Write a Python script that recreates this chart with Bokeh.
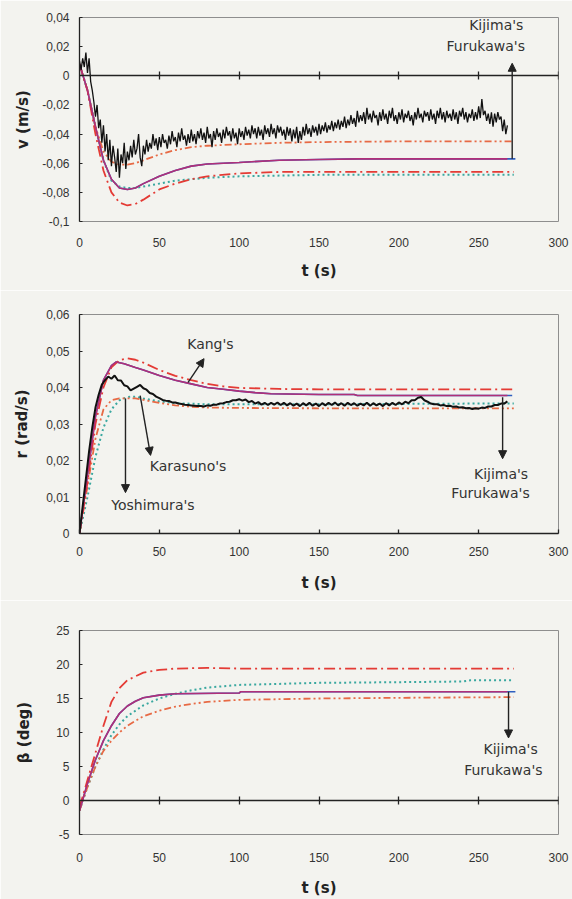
from bokeh.plotting import figure
from bokeh.layouts import column
from bokeh.models import (Range1d, LinearAxis, FixedTicker, CustomJSTickFormatter,
                          Arrow, NormalHead, Label, CustomLabelingPolicy)
from bokeh.embed import file_html
from bokeh.resources import INLINE

# ---------------- data ----------------
T_TICKS = [0, 50, 100, 150, 200, 250, 300]
V_TICKS = [-0.1, -0.08, -0.06, -0.04, -0.02, 0, 0.02, 0.04]
R_TICKS = [0, 0.01, 0.02, 0.03, 0.04, 0.05, 0.06]
B_TICKS = [-5, 0, 5, 10, 15, 20, 25]

T_MEAS_V = list(range(0, 269))
V_MEAS = [0.010, 0.004, 0.012, 0.006, 0.016, 0.002, 0.012, -0.004, -0.010, -0.018,
          -0.028, -0.020, -0.036, -0.030, -0.046, -0.034, -0.052, -0.040, -0.058, -0.044,
          -0.062, -0.048, -0.056, -0.066, -0.050, -0.070, -0.054, -0.060, -0.046, -0.064,
          -0.052, -0.058, -0.048, -0.056, -0.044, -0.054, -0.050, -0.040, -0.056, -0.062,
          -0.048, -0.054, -0.044, -0.052, -0.046, -0.050, -0.040, -0.048, -0.043, -0.051,
          -0.042, -0.049, -0.040, -0.046, -0.044, -0.050, -0.041, -0.047, -0.038, -0.045,
          -0.042, -0.049, -0.039, -0.045, -0.036, -0.044, -0.041, -0.048, -0.040, -0.046,
          -0.037, -0.045, -0.040, -0.047, -0.038, -0.043, -0.036, -0.044, -0.039, -0.046,
          -0.035, -0.043, -0.040, -0.049, -0.038, -0.044, -0.036, -0.042, -0.039, -0.046,
          -0.037, -0.043, -0.035, -0.041, -0.038, -0.045, -0.036, -0.043, -0.039, -0.047,
          -0.036, -0.042, -0.038, -0.044, -0.035, -0.041, -0.037, -0.043, -0.034, -0.040,
          -0.036, -0.043, -0.035, -0.041, -0.037, -0.044, -0.034, -0.040, -0.036, -0.042,
          -0.033, -0.040, -0.036, -0.043, -0.034, -0.039, -0.035, -0.041, -0.037, -0.044,
          -0.035, -0.041, -0.036, -0.045, -0.037, -0.043, -0.035, -0.046, -0.038, -0.044,
          -0.035, -0.041, -0.033, -0.040, -0.036, -0.042, -0.034, -0.039, -0.035, -0.041,
          -0.033, -0.040, -0.034, -0.038, -0.032, -0.039, -0.034, -0.037, -0.031, -0.038,
          -0.032, -0.036, -0.030, -0.037, -0.031, -0.035, -0.028, -0.036, -0.030, -0.034,
          -0.027, -0.033, -0.029, -0.035, -0.024, -0.032, -0.027, -0.031, -0.025, -0.033,
          -0.022, -0.030, -0.026, -0.032, -0.024, -0.029, -0.027, -0.034, -0.025, -0.031,
          -0.023, -0.030, -0.026, -0.033, -0.024, -0.029, -0.022, -0.031, -0.027, -0.033,
          -0.025, -0.030, -0.023, -0.032, -0.026, -0.029, -0.024, -0.031, -0.027, -0.034,
          -0.025, -0.030, -0.022, -0.029, -0.026, -0.032, -0.024, -0.028, -0.025, -0.031,
          -0.023, -0.030, -0.026, -0.033, -0.024, -0.029, -0.022, -0.030, -0.025, -0.032,
          -0.024, -0.029, -0.026, -0.031, -0.023, -0.030, -0.025, -0.033, -0.024, -0.028,
          -0.022, -0.030, -0.025, -0.032, -0.026, -0.029, -0.023, -0.031, -0.025, -0.030,
          -0.021, -0.029, -0.016, -0.027, -0.024, -0.031, -0.026, -0.033, -0.025, -0.035,
          -0.026, -0.032, -0.025, -0.030, -0.028, -0.038, -0.030, -0.040, -0.034]

T_MEAS_R = list(range(0, 270, 2))
R_MEAS = [0.0000, 0.0075, 0.0150, 0.0225, 0.0290, 0.0345, 0.0380, 0.0408, 0.0420, 0.0430,
          0.0424, 0.0433, 0.0420, 0.0419, 0.0406, 0.0403, 0.0392, 0.0397, 0.0402, 0.0407,
          0.0398, 0.0394, 0.0385, 0.0382, 0.0375, 0.0371, 0.0366, 0.0364, 0.0363, 0.0359,
          0.0359, 0.0356, 0.0355, 0.0353, 0.0352, 0.0351, 0.0350, 0.0349, 0.0349, 0.0348,
          0.0351, 0.0350, 0.0353, 0.0353, 0.0356, 0.0357, 0.0360, 0.0361, 0.0365, 0.0365,
          0.0368, 0.0364, 0.0367, 0.0360, 0.0363, 0.0356, 0.0360, 0.0353, 0.0358, 0.0352,
          0.0358, 0.0353, 0.0359, 0.0352, 0.0358, 0.0351, 0.0357, 0.0350, 0.0356, 0.0349,
          0.0357, 0.0351, 0.0358, 0.0350, 0.0356, 0.0349, 0.0357, 0.0351, 0.0358, 0.0352,
          0.0359, 0.0351, 0.0357, 0.0350, 0.0358, 0.0352, 0.0357, 0.0350, 0.0356, 0.0351,
          0.0358, 0.0350, 0.0357, 0.0351, 0.0356, 0.0349, 0.0357, 0.0351, 0.0358, 0.0352,
          0.0359, 0.0354, 0.0361, 0.0357, 0.0365, 0.0365, 0.0372, 0.0374, 0.0365, 0.0361,
          0.0356, 0.0354, 0.0354, 0.0351, 0.0352, 0.0349, 0.0350, 0.0347, 0.0348, 0.0345,
          0.0346, 0.0343, 0.0344, 0.0341, 0.0343, 0.0342, 0.0345, 0.0344, 0.0348, 0.0348,
          0.0352, 0.0352, 0.0356, 0.0356, 0.0362]

# v (m/s) simulations
T_V_KIJ = [0, 5, 10, 15, 20, 25, 30, 35, 40, 50, 60, 70, 80, 100, 125, 150, 175, 200, 225, 250, 268]
V_KIJ = [0.008, -0.010, -0.035, -0.058, -0.071, -0.077, -0.078, -0.077, -0.074, -0.069, -0.065,
         -0.062, -0.0605, -0.0595, -0.058, -0.0575, -0.057, -0.057, -0.057, -0.057, -0.057]
T_V_FUR = [0, 5, 10, 15, 20, 25, 30, 35, 40, 50, 60, 70, 80, 100, 125, 150, 175, 200, 225, 250, 273]
V_FUR = [0.008, -0.010, -0.035, -0.058, -0.071, -0.077, -0.078, -0.077, -0.074, -0.069, -0.065,
         -0.062, -0.0605, -0.0595, -0.058, -0.0575, -0.057, -0.057, -0.057, -0.057, -0.057]
T_V_KANG = [0, 5, 10, 15, 20, 25, 30, 35, 40, 50, 60, 70, 80, 100, 125, 150, 200, 272]
V_KANG = [0.008, -0.010, -0.040, -0.065, -0.080, -0.087, -0.089, -0.088, -0.085, -0.078, -0.074,
          -0.071, -0.069, -0.067, -0.066, -0.066, -0.066, -0.066]
T_V_KAR = [0, 5, 10, 15, 20, 25, 30, 35, 40, 50, 60, 80, 100, 150, 200, 272]
V_KAR = [0.008, -0.010, -0.035, -0.058, -0.072, -0.076, -0.077, -0.077, -0.076, -0.074, -0.072,
         -0.070, -0.069, -0.068, -0.068, -0.068]
T_V_YOS = [0, 5, 10, 15, 20, 25, 30, 35, 40, 50, 60, 70, 80, 100, 125, 150, 200, 272]
V_YOS = [0.008, -0.010, -0.035, -0.052, -0.059, -0.061, -0.061, -0.060, -0.058, -0.054, -0.051,
         -0.049, -0.048, -0.047, -0.046, -0.0455, -0.045, -0.045]

# r (rad/s) simulations
T_R_KIJ = [0, 5, 10, 15, 20, 23, 28, 35, 40, 50, 60, 70, 80, 90, 100, 110, 120, 150, 172, 174, 268]
R_KIJ = [0.0, 0.016, 0.032, 0.042, 0.046, 0.047, 0.0465, 0.0455, 0.0448, 0.0433, 0.042, 0.041,
         0.040, 0.0395, 0.039, 0.0386, 0.0383, 0.0381, 0.0381, 0.0378, 0.0378]
T_R_FUR = [0, 5, 10, 15, 20, 23, 28, 35, 40, 50, 60, 70, 80, 90, 100, 110, 120, 150, 172, 174, 271]
R_FUR = [0.0, 0.016, 0.032, 0.042, 0.046, 0.047, 0.0465, 0.0455, 0.0448, 0.0433, 0.042, 0.041,
         0.040, 0.0395, 0.039, 0.0386, 0.0383, 0.0381, 0.0381, 0.0378, 0.0378]
T_R_KANG = [0, 5, 10, 15, 20, 25, 30, 35, 40, 50, 60, 70, 80, 90, 100, 125, 150, 200, 272]
R_KANG = [0.0, 0.014, 0.030, 0.040, 0.0455, 0.0475, 0.048, 0.0476, 0.0468, 0.0448, 0.0432,
          0.042, 0.041, 0.0403, 0.0399, 0.0396, 0.0395, 0.0395, 0.0395]
T_R_KAR = [0, 5, 10, 15, 20, 25, 30, 35, 40, 50, 60, 80, 100, 150, 200, 250, 272]
R_KAR = [0.0, 0.010, 0.021, 0.029, 0.034, 0.0365, 0.0374, 0.0375, 0.037, 0.0362, 0.0357,
         0.0354, 0.0354, 0.0354, 0.0355, 0.0356, 0.0356]
T_R_YOS = [0, 5, 10, 15, 20, 25, 35, 40, 50, 60, 70, 80, 100, 150, 200, 272]
R_YOS = [0.0, 0.013, 0.026, 0.034, 0.0365, 0.037, 0.037, 0.0366, 0.0358, 0.0351, 0.0347,
         0.0345, 0.0344, 0.0343, 0.0343, 0.0343]

# beta (deg) simulations
T_B_KIJ = [0, 5, 10, 15, 20, 25, 30, 35, 40, 50, 60, 100, 101, 268]
B_KIJ = [-1.5, 2.5, 6.0, 8.8, 11.0, 12.8, 13.9, 14.6, 15.1, 15.5, 15.7, 15.8, 16.0, 16.0]
T_B_FUR = [0, 5, 10, 15, 20, 25, 30, 35, 40, 50, 60, 100, 101, 273]
B_FUR = [-1.5, 2.5, 6.0, 8.8, 11.0, 12.8, 13.9, 14.6, 15.1, 15.5, 15.7, 15.8, 16.0, 16.0]
T_B_KANG = [0, 5, 10, 15, 20, 25, 30, 40, 50, 60, 80, 100, 150, 200, 272]
B_KANG = [-1.0, 3.0, 7.0, 11.0, 14.5, 16.5, 17.7, 18.8, 19.2, 19.4, 19.5, 19.4, 19.4, 19.4, 19.4]
T_B_KAR = [0, 5, 10, 15, 20, 25, 30, 40, 50, 60, 70, 80, 100, 150, 200, 240, 245, 272]
B_KAR = [-1.5, 2.0, 5.0, 7.5, 9.6, 11.2, 12.4, 14.0, 15.0, 15.7, 16.2, 16.6, 17.0, 17.3, 17.4,
         17.5, 17.7, 17.7]
T_B_YOS = [0, 5, 10, 15, 20, 25, 30, 40, 50, 60, 70, 80, 100, 150, 200, 272]
B_YOS = [-1.5, 2.0, 5.0, 7.3, 8.8, 10.0, 11.0, 12.4, 13.2, 13.8, 14.2, 14.5, 14.8, 15.0, 15.1, 15.2]

# ---------------- style ----------------
BG = "#f3f3ef"
C_MEAS = "#111111"
C_KIJ = "#b02f78"
C_FUR = "#2f5fc0"
C_KANG = "#e43b35"
C_KAR = "#3aa8a0"
C_YOS = "#e76a45"
TICK_FONT = "Liberation Sans"
TXT_FONT = "DejaVu Sans"

fmt = CustomJSTickFormatter(code="""
    var s = (Math.round(tick * 1000) / 1000).toString();
    return s.replace('.', ',');
""")


def make_fig(height, top, bottom, yr, yticks, ylabel, ylabel_standoff,
             zero_axis, xlabel_standoff_lbl, xlabel_standoff):
    p = figure(width=572, height=height, x_range=Range1d(0, 300), y_range=Range1d(*yr),
               output_backend="svg", toolbar_location=None,
               min_border_left=79, min_border_right=14,
               min_border_top=top, min_border_bottom=bottom,
               background_fill_color=BG, border_fill_color=BG,
               outline_line_color="#8e8e8e", outline_line_width=1)
    p.grid.visible = False
    xa = p.xaxis[0]
    xa.ticker = FixedTicker(ticks=T_TICKS)
    xa.minor_tick_line_color = None
    xa.major_label_text_font = TICK_FONT
    xa.major_label_text_font_size = "12px"
    xa.major_label_text_color = "#333333"
    xa.major_label_standoff = xlabel_standoff_lbl
    xa.axis_label = "t (s)"
    xa.axis_label_text_font = TXT_FONT
    xa.axis_label_text_font_size = "15px"
    xa.axis_label_text_font_style = "bold"
    xa.axis_label_text_color = "#222222"
    xa.axis_label_standoff = xlabel_standoff
    if zero_axis:
        xa.axis_line_color = None
        xa.major_tick_line_color = None
        za = LinearAxis(fixed_location=0, ticker=FixedTicker(ticks=T_TICKS),
                        major_label_policy=CustomLabelingPolicy(code="return new Set()"),
                        major_label_standoff=0,
                        major_tick_in=4, major_tick_out=4,
                        minor_tick_line_color=None,
                        axis_line_color="#222222", axis_line_width=1.3,
                        major_tick_line_color="#222222", major_tick_line_width=1.3)
        p.add_layout(za, "below")
    else:
        xa.axis_line_color = "#222222"
        xa.axis_line_width = 1.3
        xa.major_tick_in = 4
        xa.major_tick_out = 0
        xa.major_tick_line_color = "#222222"
        xa.major_tick_line_width = 1.3
    ya = p.yaxis[0]
    ya.ticker = FixedTicker(ticks=yticks)
    ya.formatter = fmt
    ya.minor_tick_line_color = None
    ya.major_tick_in = 3
    ya.major_tick_out = 0
    ya.axis_line_color = "#222222"
    ya.axis_line_width = 1.3
    ya.major_tick_line_color = "#222222"
    ya.major_label_text_font = TICK_FONT
    ya.major_label_text_font_size = "12px"
    ya.major_label_text_color = "#333333"
    ya.major_label_standoff = 10
    ya.axis_label = ylabel
    ya.axis_label_text_font = TXT_FONT
    ya.axis_label_text_font_size = "15px"
    ya.axis_label_text_font_style = "bold"
    ya.axis_label_text_color = "#222222"
    ya.axis_label_standoff = ylabel_standoff
    return p


def curves(p, tk, yk, tf, yf, tka, yka, tkr, ykr, tyo, yyo):
    p.line(tf, yf, color=C_FUR, line_width=1.6)
    p.line(tkr, ykr, color=C_KAR, line_width=2, line_dash="2 3")
    p.line(tyo, yyo, color=C_YOS, line_width=1.8, line_dash="7 3 2 3 2 3")
    p.line(tka, yka, color=C_KANG, line_width=1.8, line_dash="11 4 2 4")
    p.line(tk, yk, color=C_KIJ, line_width=1.6)


def label(p, x, y, text, align="center"):
    p.add_layout(Label(x=x, y=y, text=text, text_align=align, text_baseline="middle",
                       text_font=TXT_FONT, text_font_size="14px", text_color="#333333"))


def arrow(p, x0, y0, x1, y1):
    p.add_layout(Arrow(end=NormalHead(size=8, fill_color="#222222", line_color="#222222"),
                       x_start=x0, y_start=y0, x_end=x1, y_end=y1,
                       line_color="#222222", line_width=1.4))


# ---------- panel 1: v ----------
p1 = make_fig(290, 17, 69, (-0.1, 0.04), V_TICKS, "v (m/s)", 7, True, 10, 12)
curves(p1, T_V_KIJ, V_KIJ, T_V_FUR, V_FUR, T_V_KANG, V_KANG, T_V_KAR, V_KAR, T_V_YOS, V_YOS)
p1.line(T_MEAS_V, V_MEAS, color=C_MEAS, line_width=1.3)
arrow(p1, 271, -0.057, 271, 0.0086)
label(p1, 278, 0.0347, "Kijima's", "right")
label(p1, 279, 0.0203, "Furukawa's", "right")

# ---------- panel 2: r ----------
p2 = make_fig(310, 24, 67, (0, 0.06), R_TICKS, "r (rad/s)", 12, False, 13, 15)
curves(p2, T_R_KIJ, R_KIJ, T_R_FUR, R_FUR, T_R_KANG, R_KANG, T_R_KAR, R_KAR, T_R_YOS, R_YOS)
p2.line(T_MEAS_R, R_MEAS, color=C_MEAS, line_width=2)
arrow(p2, 68, 0.0414, 78, 0.0479)
label(p2, 82, 0.052, "Kang's")
arrow(p2, 28.8, 0.037, 28.8, 0.0112)
label(p2, 46, 0.0077, "Yoshimura's")
arrow(p2, 38, 0.0378, 44.5, 0.0214)
label(p2, 68, 0.0186, "Karasuno's")
arrow(p2, 265, 0.0373, 265, 0.0205)
label(p2, 281, 0.0164, "Kijima's", "right")
label(p2, 282, 0.011, "Furukawa's", "right")

# ---------- panel 3: beta ----------
p3 = make_fig(299, 30, 64, (-5, 25), B_TICKS, "\u03b2 (deg)", 20, True, 12, 14)
curves(p3, T_B_KIJ, B_KIJ, T_B_FUR, B_FUR, T_B_KANG, B_KANG, T_B_KAR, B_KAR, T_B_YOS, B_YOS)
arrow(p3, 268.7, 16.0, 268.7, 9.2)
label(p3, 287, 7.6, "Kijima's", "right")
label(p3, 290, 4.5, "Furukawa's", "right")

layout = column(p1, p2, p3, spacing=0)
open("out.html", "w").write(file_html(layout, INLINE))
